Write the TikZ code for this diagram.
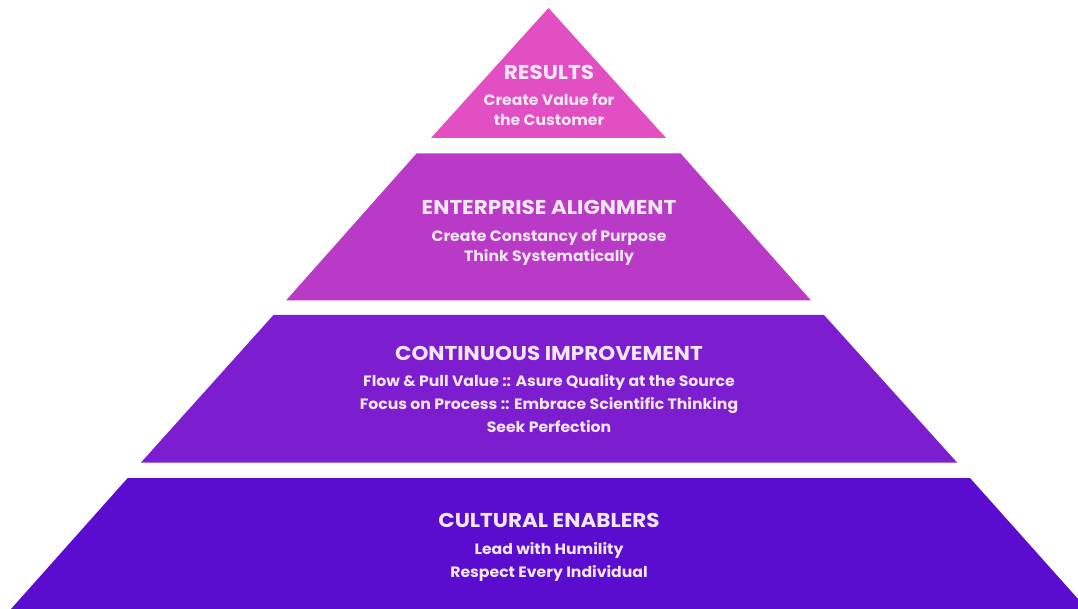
\documentclass[tikz,border=0pt]{standalone}
\usepackage{fontspec}
\setmainfont{Poppins}
\newfontfamily\headfont[FakeStretch=1.075]{Poppins}
\newfontfamily\bodyfont[FakeStretch=1.045]{Poppins}
\begin{document}
\begin{tikzpicture}[x=1pt,y=-1pt,
  layer/.style={fill=#1, draw=none},
  ttl/.style={anchor=base, text=textc, inner sep=0pt, font=\headfont\fontsize{20}{24}\selectfont\bfseries},
  txt/.style={anchor=base, text=textc, inner sep=0pt, font=\bodyfont\fontsize{15}{18}\selectfont\bfseries}]
\definecolor{c1}{HTML}{E14FC3}
\definecolor{c2}{HTML}{B83AC6}
\definecolor{c3}{HTML}{7C1ECF}
\definecolor{c4}{HTML}{5A0CCF}
\definecolor{textc}{HTML}{F2E6F5}
% canvas
\useasboundingbox (0,0) rectangle (1078,609);
\begin{scope}
\clip (0,0) rectangle (1078,609);
% pyramid tiers, top to bottom
\fill[layer=c1] (548.5,8) -- (666,138) -- (431,138) -- cycle;
\fill[layer=c2] (416.7,153.3) -- (680.5,153.3) -- (811,300.5) -- (286,300.5) -- cycle;
\fill[layer=c3] (273.5,315) -- (824,315) -- (957,462.5) -- (141,462.5) -- cycle;
\fill[layer=c4] (127.7,478) -- (970,478) -- (1087,609) -- (11,609) -- cycle;
\end{scope}
% tier 1
\node[ttl] (t1) at (549,79.3) {RESULTS};
\node[txt] (t1a) at (549,106) {Create Value for};
\node[txt] (t1b) at (549,126) {the Customer};
% tier 2
\node[ttl] (t2) at (549,215) {ENTERPRISE ALIGNMENT};
\node[txt] (t2a) at (549,241.5) {Create Constancy of Purpose};
\node[txt] (t2b) at (549,262) {Think Systematically};
% tier 3
\node[ttl] (t3) at (549,360.7) {CONTINUOUS IMPROVEMENT};
\node[txt] (t3a) at (549,386.5) {Flow \& Pull Value :: Asure Quality at the Source};
\node[txt] (t3b) at (549,409.5) {Focus on Process :: Embrace Scientific Thinking};
\node[txt] (t3c) at (549,432.5) {Seek Perfection};
% tier 4
\node[ttl] (t4) at (549,527.3) {CULTURAL ENABLERS};
\node[txt] (t4a) at (549,554.5) {Lead with Humility};
\node[txt] (t4b) at (549,577.5) {Respect Every Individual};
\end{tikzpicture}
\end{document}
